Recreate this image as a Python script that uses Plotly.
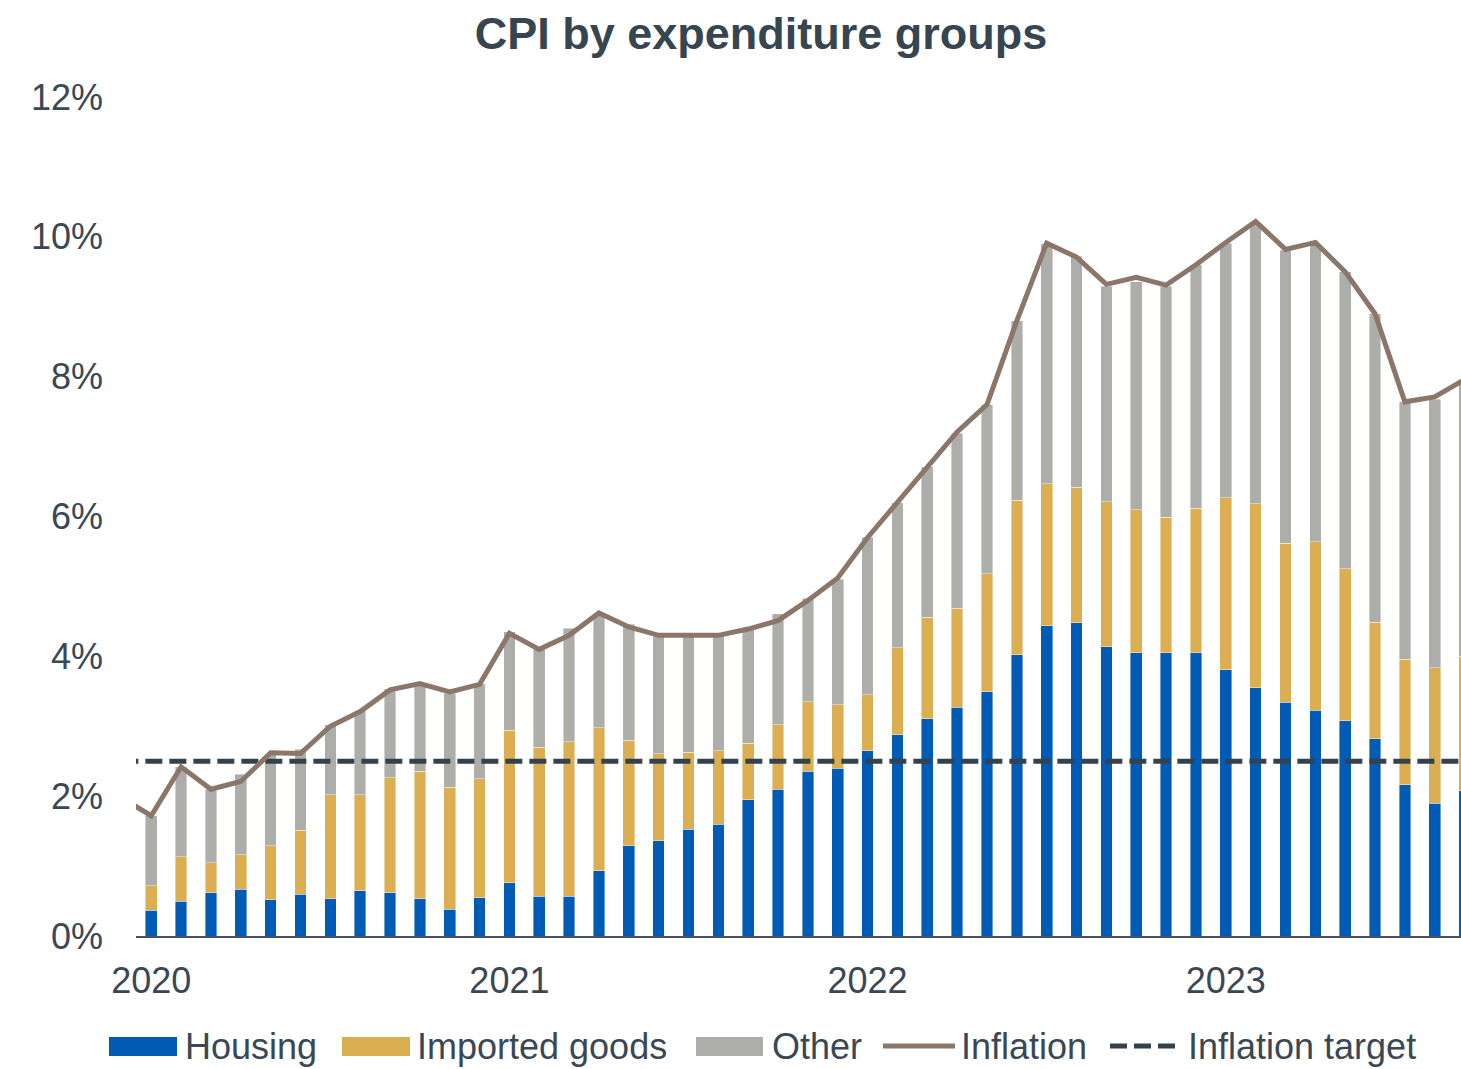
import plotly.graph_objects as go

# ---- Data ----
months = (["2019-12"]
          + ["2020-%02d" % m for m in range(1, 13)]
          + ["2021-%02d" % m for m in range(1, 13)]
          + ["2022-%02d" % m for m in range(1, 13)]
          + ["2023-%02d" % m for m in range(1, 10)])

housing = [None,
           0.37, 0.50, 0.62, 0.67, 0.52, 0.60, 0.53, 0.65, 0.62, 0.53, 0.38, 0.55,
           0.76, 0.57, 0.57, 0.93, 1.29, 1.36, 1.53, 1.60, 1.95, 2.10, 2.36, 2.40,
           2.65, 2.88, 3.11, 3.27, 3.49, 4.02, 4.44, 4.48, 4.14, 4.05, 4.05, 4.05,
           3.81, 3.55, 3.34, 3.23, 3.08, 2.82, 2.16, 1.90, 2.08]

imported_goods = [None,
                  0.35, 0.63, 0.43, 0.49, 0.77, 0.91, 1.49, 1.37, 1.64, 1.83, 1.75, 1.70,
                  2.18, 2.13, 2.21, 2.05, 1.51, 1.25, 1.10, 1.05, 0.81, 0.92, 0.99, 0.91,
                  0.80, 1.24, 1.45, 1.42, 1.69, 2.21, 2.03, 1.94, 2.07, 2.05, 1.94, 2.07,
                  2.46, 2.63, 2.28, 2.41, 2.17, 1.67, 1.80, 1.94, 1.92]

other = [None,
         1.00, 1.29, 1.05, 1.15, 1.32, 1.16, 1.00, 1.20, 1.28, 1.22, 1.34, 1.36,
         1.41, 1.40, 1.62, 1.63, 1.66, 1.69, 1.67, 1.65, 1.62, 1.59, 1.48, 1.79,
         2.25, 2.08, 2.15, 2.50, 2.42, 2.57, 3.43, 3.30, 3.08, 3.26, 3.30, 3.48,
         3.64, 4.00, 4.19, 4.24, 4.25, 4.41, 3.68, 3.84, 3.92]

inflation = [1.98,
             1.72, 2.42, 2.10, 2.21, 2.62, 2.61, 3.00, 3.21, 3.52, 3.61, 3.49, 3.60,
             4.33, 4.10, 4.30, 4.62, 4.42, 4.30, 4.30, 4.30, 4.39, 4.51, 4.80, 5.12,
             5.70, 6.20, 6.69, 7.21, 7.60, 8.80, 9.91, 9.71, 9.32, 9.42, 9.31, 9.60,
             9.92, 10.22, 9.82, 9.92, 9.50, 8.90, 7.64, 7.71, 7.96]

inflation_target = [2.5] * len(months)

year_ticks = ["2020-01", "2021-01", "2022-01", "2023-01"]
year_labels = ["2020", "2021", "2022", "2023"]
y_ticks = [0, 2, 4, 6, 8, 10, 12]
y_labels = ["0%", "2%", "4%", "6%", "8%", "10%", "12%"]

# ---- Styling ----
C_HOUSING = "#005BB5"
C_IMPORTED = "#DCAE52"
C_OTHER = "#ADAEA9"
C_INFL = "#8B776A"
C_TARGET = "#33424D"
C_TEXT = "#3A4853"
FONT = "Liberation Sans, Arial, sans-serif"

W, H = 1461, 1069
L, R, T, B = 136, 0, 97, 133
PW, PH = W - L - R, H - T - B

def px(x):
    return (x - L) / PW

def py(y):
    return (H - B - y) / PH

fig = go.Figure()
bar_line = dict(width=0.6, color="rgba(255,255,255,0.7)")
fig.add_trace(go.Bar(x=months, y=housing, name="Housing",
                     marker=dict(color=C_HOUSING, line=bar_line), width=0.39))
fig.add_trace(go.Bar(x=months, y=imported_goods, name="Imported goods",
                     marker=dict(color=C_IMPORTED, line=bar_line), width=0.39))
fig.add_trace(go.Bar(x=months, y=other, name="Other",
                     marker=dict(color=C_OTHER, line=bar_line), width=0.39))
fig.add_trace(go.Scatter(x=months, y=inflation_target, name="Inflation target",
                         mode="lines", line=dict(color=C_TARGET, width=5, dash="17px,7px")))
fig.add_trace(go.Scatter(x=months, y=inflation, name="Inflation",
                         mode="lines", line=dict(color=C_INFL, width=5)))

fig.update_layout(
    width=W, height=H,
    margin=dict(l=L, r=R, t=T, b=B, pad=0),
    barmode="stack",
    showlegend=False,
    plot_bgcolor="white", paper_bgcolor="white",
    font=dict(family=FONT, color=C_TEXT, size=36),
    title=dict(text="<b>CPI by expenditure groups</b>",
               font=dict(family=FONT, size=45, color="#36454F"),
               x=761 / W, xanchor="center", xref="container",
               y=1 - 33 / H, yanchor="middle", yref="container"),
    xaxis=dict(type="category", range=[0.49, 44.88],
               tickmode="array", tickvals=year_ticks, ticktext=year_labels,
               showgrid=False, zeroline=False,
               showline=True, linecolor="#46535D", linewidth=2,
               ticks="", ticklabelstandoff=12,
               tickfont=dict(size=36, color=C_TEXT)),
    yaxis=dict(range=[0, 12], tickmode="array", tickvals=y_ticks, ticktext=y_labels,
               showgrid=False, zeroline=False, showline=False,
               ticks="", ticklabelstandoff=32,
               tickfont=dict(size=36, color=C_TEXT)),
)

# ---- Custom legend (wide swatches as in reference) ----
legend_y = 1046
items = [
    ("rect", C_HOUSING, 109, 177, "Housing", 183),
    ("rect", C_IMPORTED, 342, 410, "Imported goods", 415),
    ("rect", C_OTHER, 696, 763, "Other", 770),
    ("line", C_INFL, 883, 955, "Inflation", 959),
    ("dash", C_TARGET, 1110, 1176, "Inflation target", 1186),
]
for kind, color, x0, x1, label, tx in items:
    if kind == "rect":
        fig.add_shape(type="rect", xref="paper", yref="paper",
                      x0=px(x0), x1=px(x1), y0=py(1037), y1=py(1056),
                      fillcolor=color, line=dict(width=0))
    else:
        fig.add_shape(type="line", xref="paper", yref="paper",
                      x0=px(x0), x1=px(x1), y0=py(legend_y), y1=py(legend_y),
                      line=dict(color=color, width=5,
                                dash="solid" if kind == "line" else "17px,7px"))
    fig.add_annotation(text=label, xref="paper", yref="paper",
                       x=px(tx), y=py(legend_y), xanchor="left", yanchor="middle",
                       showarrow=False, font=dict(family=FONT, size=36, color=C_TEXT))

fig.write_html(
    "out.html",
    config={"displayModeBar": False},
    post_script=("document.body.style.margin='0';"
                 "document.body.style.overflow='hidden';"
                 "document.documentElement.style.overflow='hidden';"),
)
